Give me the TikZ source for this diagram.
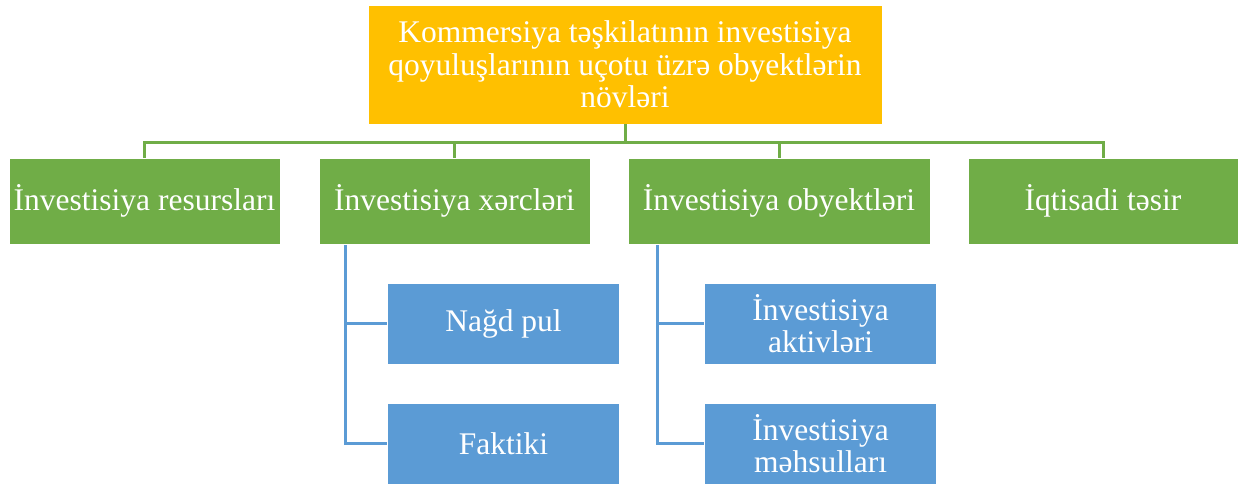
\documentclass[tikz,border=0pt]{standalone}
\usepackage{fontspec}
\setmainfont{Liberation Serif}
\definecolor{orangebox}{HTML}{FFC000}
\definecolor{greenbox}{HTML}{70AD47}
\definecolor{bluebox}{HTML}{5B9BD5}
\begin{document}
\begin{tikzpicture}[x=1pt,y=-1pt,
  box/.style={draw=white,line width=0.6pt,text=white,align=center,inner sep=1pt,
    font=\fontsize{31.5}{32.5}\selectfont},
  topbox/.style={box,fill=orangebox,minimum width=514pt,minimum height=119pt},
  greenb/.style={box,fill=greenbox,minimum height=86pt},
  blueb/.style={box,fill=bluebox,minimum width=232pt,minimum height=81pt},
  gline/.style={draw=greenbox,line width=3pt},
  bline/.style={draw=bluebox,line width=3pt}]
\useasboundingbox (0,0) rectangle (1246,483);
\node[topbox] (top) at (625,64.5) {Kommersiya təşkilatının investisiya\\qoyuluşlarının uçotu üzrə obyektlərin\\növləri};
\node[greenb,minimum width=271pt] (g1) at (144.5,201) {İnvestisiya resursları};
\node[greenb,minimum width=271pt] (g2) at (454.5,201) {İnvestisiya xərcləri};
\node[greenb,minimum width=302pt] (g3) at (779,201) {İnvestisiya obyektləri};
\node[greenb,minimum width=270pt] (g4) at (1103,201) {İqtisadi təsir};
\node[blueb] (b1) at (503.5,323.5) {Nağd pul};
\node[blueb] (b2) at (503.5,443.5) {Faktiki};
\node[blueb] (b3) at (820.5,323.5) {İnvestisiya\\aktivləri};
\node[blueb] (b4) at (820.5,443.5) {İnvestisiya\\məhsulları};
% green bus
\draw[gline] (top.south) -- ++(0,19);
\draw[gline] (g1.north) -- ++(0,-15) -| (g4.north);
\draw[gline] (g2.north) -- ++(0,-15);
\draw[gline] (g3.north) -- ++(0,-15);
% blue connectors
\coordinate (s2) at (345,245);
\coordinate (s3) at (657,245);
\draw[bline] (s2) |- (b2.west);
\draw[bline] (s2 |- b1.west) -- (b1.west);
\draw[bline] (s3) |- (b4.west);
\draw[bline] (s3 |- b3.west) -- (b3.west);
\end{tikzpicture}
\end{document}
